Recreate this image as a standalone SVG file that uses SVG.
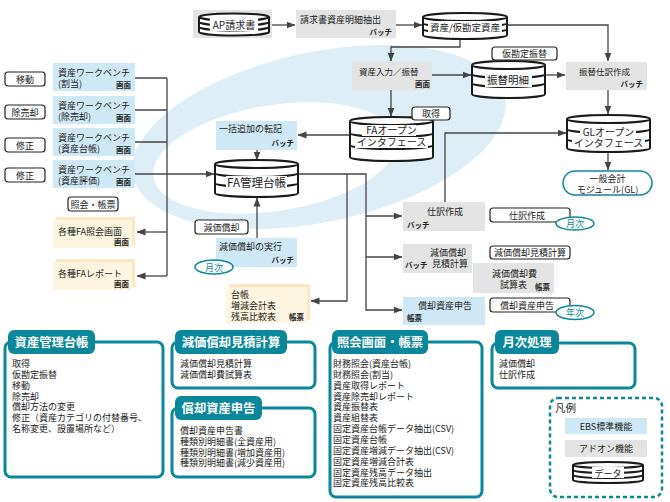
<svg xmlns="http://www.w3.org/2000/svg" width="670" height="502" viewBox="0 0 670 502">
<defs>
<marker id="ah" markerWidth="9" markerHeight="8" refX="8.5" refY="4" orient="auto" markerUnits="userSpaceOnUse"><path d="M0,0.5 L9,4 L0,7.5 z" fill="#444"/></marker>
<style>
.t{font-family:"Noto Sans CJK JP","Noto Sans",sans-serif;fill:#222}
.eb{fill:#cfe8f5}
.ad{fill:#e3e3e3}
.rb{fill:#fbe8c2}
.rf{fill:#fdf5df}
.lbl{fill:#fff;stroke:#222;stroke-width:1.2}
.cyl{fill:#fff;stroke:#1a1a1a;stroke-width:2}
.cs{fill:none;stroke:#1a1a1a;stroke-width:2}
.con{fill:none;stroke:#444;stroke-width:1.3}
.tl{fill:#fff;stroke:#0b879b;stroke-width:1.5}
.tt{font-family:"Noto Sans CJK JP","Noto Sans",sans-serif;fill:#0b879b}
.pb{fill:#fff;stroke:#0b879b;stroke-width:3}
.tab{fill:#0b879b}
.ttl{font-family:"Noto Sans CJK JP","Noto Sans",sans-serif;fill:#fff;font-weight:bold;font-size:12.3px;text-anchor:middle}
.sm{font-size:7.5px;font-weight:bold}
.s9{font-size:9px}
</style>
</defs>
<rect width="670" height="502" fill="#fff"/>
<ellipse cx="319" cy="137" rx="190" ry="85" transform="rotate(-12 319 137)" fill="#ddeef7"/>
<ellipse cx="275" cy="158" rx="123" ry="53" transform="rotate(-9 275 158)" fill="#fff"/>

<g id="connectors" class="con">
<path d="M272,25 H295" marker-end="url(#ah)"/>
<path d="M396,25 H422" marker-end="url(#ah)"/>
<path d="M507,25 H608 V61" marker-end="url(#ah)"/>
<path d="M460,40 V47 H391 V61" marker-end="url(#ah)"/>
<path d="M432,75 H471" marker-end="url(#ah)"/>
<path d="M545,75 H565" marker-end="url(#ah)"/>
<path d="M391,90 V116" marker-end="url(#ah)"/>
<path d="M608,90 V114" marker-end="url(#ah)"/>
<path d="M608,153 V170" marker-end="url(#ah)"/>
<path d="M350,135 H298" marker-end="url(#ah)"/>
<path d="M257,150 V160" marker-end="url(#ah)"/>
<path d="M257,238 V198" marker-end="url(#ah)"/>
<path d="M135,78 H167 M135,110 H167 M135,142 H167 M167,78 V276"/>
<path d="M135,174 H214" marker-end="url(#ah)"/>
<path d="M167,232 H137" marker-end="url(#ah)"/>
<path d="M167,276 H137" marker-end="url(#ah)"/>
<path d="M298,174 H366 V310 H402" marker-end="url(#ah)"/>
<path d="M366,216 H402" marker-end="url(#ah)"/>
<path d="M366,257 H402" marker-end="url(#ah)"/>
<path d="M347,174 V301 H311" marker-end="url(#ah)"/>
<path d="M445,202 V133 H566" marker-end="url(#ah)"/>
</g>

<g id="ap">
<rect class="ad" x="193" y="10" width="79" height="28"/>
<path class="cyl" d="M199,17 A35,3.5 0 0 1 269,17 V32 A35,3.5 0 0 1 199,32 Z"/>
<path class="cs" d="M199,17 A35,3.5 0 0 0 269,17 M199,22 A35,3.5 0 0 0 269,22 M199,27 A35,3.5 0 0 0 269,27"/>
<rect x="210" y="18" width="48" height="13" fill="#fff"/>
<text class="t" x="234" y="29" font-size="10" text-anchor="middle">AP請求書</text>
</g>

<g id="extract">
<rect class="ad" x="296" y="10" width="100" height="28"/>
<text class="t s9" x="300" y="23">請求書資産明細抽出</text>
<text class="t sm" x="392" y="35" text-anchor="end">バッチ</text>
</g>

<g id="asset-db">
<path class="cyl" d="M423,17 A42,4 0 0 1 507,17 V35 A42,4 0 0 1 423,35 Z"/>
<path class="cs" d="M423,17 A42,4 0 0 0 507,17 M423,23 A42,4 0 0 0 507,23 M423,29 A42,4 0 0 0 507,29"/>
<rect x="428" y="21" width="74" height="13" fill="#fff"/>
<text class="t" x="465" y="31" font-size="9.5" text-anchor="middle">資産/仮勘定資産</text>
</g>

<g id="asset-input">
<rect class="ad" x="352" y="62" width="80" height="28"/>
<text class="t" x="359" y="75" font-size="8.5">資産入力／振替</text>
<text class="t sm" x="430" y="87" text-anchor="end">画面</text>
</g>

<g id="transfer-detail">
<path class="cyl" d="M472,65 A36.5,4 0 0 1 545,65 V94 A36.5,4 0 0 1 472,94 Z"/>
<path class="cs" d="M472,65 A36.5,4 0 0 0 545,65 M472,74 A36.5,4 0 0 0 545,74 M472,83 A36.5,4 0 0 0 545,83"/>
<rect x="485" y="73" width="47" height="14" fill="#fff"/>
<text class="t" x="508" y="84" font-size="10.5" text-anchor="middle">振替明細</text>
</g>
<g id="lbl-kari">
<rect class="lbl" x="492" y="47" width="65" height="13" rx="3"/>
<text class="t s9" x="524.5" y="57" text-anchor="middle">仮勘定振替</text>
</g>

<g id="transfer-journal">
<rect class="ad" x="566" y="62" width="81" height="28"/>
<text class="t" x="579" y="74.5" font-size="8.5">振替仕訳作成</text>
<text class="t sm" x="643" y="87" text-anchor="end">バッチ</text>
</g>

<g id="fa-oif">
<path class="cyl" d="M350,121 A41.5,4 0 0 1 433,121 V157 A41.5,4 0 0 1 350,157 Z"/>
<path class="cs" d="M350,121 A41.5,4 0 0 0 433,121 M350,133 A41.5,4 0 0 0 433,133 M350,145 A41.5,4 0 0 0 433,145"/>
<rect x="362" y="125" width="54" height="11" fill="#fff"/>
<rect x="355" y="137" width="73" height="11" fill="#fff"/>
<text class="t" x="391.5" y="134" font-size="10" text-anchor="middle">FAオープン</text>
<text class="t" x="391.5" y="146" font-size="10" text-anchor="middle">インタフェース</text>
</g>
<g id="lbl-shutoku">
<rect class="lbl" x="412" y="107" width="38" height="13" rx="3"/>
<text class="t s9" x="431" y="117" text-anchor="middle">取得</text>
</g>

<g id="gl-oif">
<path class="cyl" d="M567,119 A41.5,4 0 0 1 650,119 V148 A41.5,4 0 0 1 567,148 Z"/>
<path class="cs" d="M567,119 A41.5,4 0 0 0 650,119 M567,129 A41.5,4 0 0 0 650,129 M567,139 A41.5,4 0 0 0 650,139"/>
<rect x="580" y="127" width="56" height="10" fill="#fff"/>
<rect x="572" y="138" width="73" height="10" fill="#fff"/>
<text class="t" x="608.5" y="136" font-size="10" text-anchor="middle">GLオープン</text>
<text class="t" x="608.5" y="147" font-size="10" text-anchor="middle">インタフェース</text>
</g>

<g id="gl-module">
<rect class="tl" x="563" y="171" width="89" height="24" rx="12"/>
<text class="t s9" x="607.5" y="182" text-anchor="middle">一般会計</text>
<text class="t s9" x="607.5" y="193" text-anchor="middle">モジュール(GL)</text>
</g>

<g id="mass-add">
<rect class="eb" x="216" y="121" width="81" height="29"/>
<text class="t s9" x="219" y="132">一括追加の転記</text>
<text class="t sm" x="294" y="146" text-anchor="end">バッチ</text>
</g>

<g id="fa-ledger">
<path class="cyl" d="M215,164 A41.5,4 0 0 1 298,164 V193 A41.5,4 0 0 1 215,193 Z"/>
<path class="cs" d="M215,164 A41.5,4 0 0 0 298,164 M215,173 A41.5,4 0 0 0 298,173 M215,183 A41.5,4 0 0 0 298,183"/>
<rect x="226" y="176" width="61" height="13" fill="#fff"/>
<text class="t" x="256.5" y="187" font-size="11.5" text-anchor="middle">FA管理台帳</text>
</g>

<g id="wb1">
<rect class="eb" x="53" y="63" width="82" height="28"/>
<text class="t s9" x="58" y="76">資産ワークベンチ</text>
<text class="t s9" x="58" y="87">(割当)</text>
<text class="t sm" x="131" y="88" text-anchor="end">画面</text>
</g>
<g id="wb2">
<rect class="eb" x="53" y="96" width="82" height="28"/>
<text class="t s9" x="58" y="109">資産ワークベンチ</text>
<text class="t s9" x="58" y="120">(除売却)</text>
<text class="t sm" x="131" y="121" text-anchor="end">画面</text>
</g>
<g id="wb3">
<rect class="eb" x="53" y="128" width="82" height="28"/>
<text class="t s9" x="58" y="141">資産ワークベンチ</text>
<text class="t s9" x="58" y="152">(資産台帳)</text>
<text class="t sm" x="131" y="153" text-anchor="end">画面</text>
</g>
<g id="wb4">
<rect class="eb" x="53" y="160" width="82" height="28"/>
<text class="t s9" x="58" y="173">資産ワークベンチ</text>
<text class="t s9" x="58" y="184">(資産評価)</text>
<text class="t sm" x="131" y="185" text-anchor="end">画面</text>
</g>

<g id="lbl-ido"><rect class="lbl" x="5" y="72" width="40" height="14" rx="3"/><text class="t s9" x="25" y="82.5" text-anchor="middle">移動</text></g>
<g id="lbl-jobai"><rect class="lbl" x="5" y="105" width="40" height="14" rx="3"/><text class="t s9" x="25" y="115.5" text-anchor="middle">除売却</text></g>
<g id="lbl-shusei1"><rect class="lbl" x="5" y="138" width="40" height="14" rx="3"/><text class="t s9" x="25" y="148.5" text-anchor="middle">修正</text></g>
<g id="lbl-shusei2"><rect class="lbl" x="5" y="168" width="40" height="14" rx="3"/><text class="t s9" x="25" y="178.5" text-anchor="middle">修正</text></g>
<g id="lbl-shokai"><rect class="lbl" x="68" y="197" width="50" height="14" rx="3"/><text class="t s9" x="93" y="207.5" text-anchor="middle">照会・帳票</text></g>

<g id="fa-inquiry">
<rect class="rb" x="56" y="217" width="79" height="28"/>
<rect class="rf" x="53" y="220" width="79" height="28"/>
<text class="t s9" x="58" y="235">各種FA照会画面</text>
<text class="t sm" x="129" y="245" text-anchor="end">画面</text>
</g>
<g id="fa-report">
<rect class="rb" x="56" y="259" width="79" height="28"/>
<rect class="rf" x="53" y="262" width="79" height="28"/>
<text class="t s9" x="58" y="277">各種FAレポート</text>
<text class="t sm" x="129" y="287" text-anchor="end">画面</text>
</g>

<g id="lbl-genka">
<rect class="lbl" x="195" y="220" width="53" height="14" rx="3"/>
<text class="t s9" x="221.5" y="230.5" text-anchor="middle">減価償却</text>
</g>
<g id="depr-run">
<rect class="eb" x="216" y="238" width="81" height="29"/>
<text class="t s9" x="219" y="250">減価償却の実行</text>
<text class="t sm" x="294" y="263" text-anchor="end">バッチ</text>
</g>
<g id="tag-monthly1">
<ellipse class="tl" cx="214" cy="267" rx="19" ry="7"/>
<text class="tt s9" x="214" y="270.5" text-anchor="middle">月次</text>
</g>

<g id="ledger-reports">
<rect class="rb" x="229" y="284" width="81" height="36"/>
<rect class="rf" x="226" y="287" width="81" height="36"/>
<text class="t s9" x="231" y="298">台帳</text>
<text class="t s9" x="231" y="309">増減会計表</text>
<text class="t s9" x="231" y="320">残高比較表</text>
<text class="t sm" x="304" y="320" text-anchor="end">帳票</text>
</g>

<g id="journal">
<rect class="ad" x="403" y="202" width="82" height="29"/>
<text class="t s9" x="445" y="215" text-anchor="middle">仕訳作成</text>
<text class="t sm" x="407" y="228">バッチ</text>
</g>
<g id="lbl-journal">
<rect class="lbl" x="490" y="208" width="80" height="14" rx="3"/>
<text class="t s9" x="527" y="218.5" text-anchor="middle">仕訳作成</text>
</g>
<g id="tag-monthly2">
<ellipse class="tl" cx="575" cy="223.5" rx="19" ry="6.5"/>
<text class="tt s9" x="575" y="227" text-anchor="middle">月次</text>
</g>

<g id="depr-est">
<rect class="ad" x="403" y="244" width="69" height="29"/>
<text class="t s9" x="430" y="256">減価償却</text>
<text class="t s9" x="432" y="267">見積計算</text>
<text class="t sm" x="405" y="268">バッチ</text>
</g>
<g id="lbl-depr-est">
<rect class="lbl" x="490" y="246" width="80" height="13" rx="3"/>
<text class="t s9" x="530" y="256" text-anchor="middle">減価償却見積計算</text>
</g>
<g id="depr-trial">
<rect class="ad" x="473" y="263" width="81" height="30"/>
<text class="t s9" x="492" y="277">減価償却費</text>
<text class="t s9" x="500" y="288">試算表</text>
<text class="t sm" x="550" y="290" text-anchor="end">帳票</text>
</g>

<g id="tax-report">
<rect class="eb" x="403" y="297" width="82" height="28"/>
<text class="t s9" x="445" y="309" text-anchor="middle">償却資産申告</text>
<text class="t sm" x="407" y="321">帳票</text>
</g>
<g id="lbl-tax">
<rect class="lbl" x="490" y="298" width="80" height="14" rx="3"/>
<text class="t s9" x="527" y="308.5" text-anchor="middle">償却資産申告</text>
</g>
<g id="tag-yearly">
<ellipse class="tl" cx="575" cy="312.5" rx="19" ry="7"/>
<text class="tt s9" x="575" y="316" text-anchor="middle">年次</text>
</g>

<g id="panel-ledger">
<rect class="pb" x="5" y="342" width="158" height="135" rx="6"/>
<rect class="tab" x="8" y="330" width="87" height="24" rx="6"/>
<text class="ttl" x="51.5" y="347">資産管理台帳</text>
<g class="t" font-size="9">
<text x="12" y="367">取得</text>
<text x="12" y="378">仮勘定振替</text>
<text x="12" y="388.8">移動</text>
<text x="12" y="399.6">除売却</text>
<text x="12" y="410.4">償却方法の変更</text>
<text x="12" y="421.2">修正（資産カテゴリの付替番号、</text>
<text x="12" y="432">名称変更、設置場所など）</text>
</g>
</g>

<g id="panel-depr">
<rect class="pb" x="172" y="342" width="143" height="46" rx="6"/>
<rect class="tab" x="175" y="330" width="112" height="24" rx="6"/>
<text class="ttl" x="231" y="347">減価償却見積計算</text>
<g class="t" font-size="9">
<text x="180" y="367">減価償却見積計算</text>
<text x="180" y="378">減価償却費試算表</text>
</g>
</g>

<g id="panel-tax">
<rect class="pb" x="172" y="408" width="143" height="69" rx="6"/>
<rect class="tab" x="175" y="396" width="87" height="24" rx="6"/>
<text class="ttl" x="218.5" y="413">償却資産申告</text>
<g class="t" font-size="9">
<text x="180" y="433.5">償却資産申告書</text>
<text x="180" y="444.5">種類別明細書(全資産用)</text>
<text x="180" y="455.5">種類別明細書(増加資産用)</text>
<text x="180" y="466">種類別明細書(減少資産用)</text>
</g>
</g>

<g id="panel-inquiry">
<rect class="pb" x="330" y="342" width="152" height="155" rx="6"/>
<rect class="tab" x="332" y="330" width="96" height="24" rx="6"/>
<text class="ttl" x="380" y="347">照会画面・帳票</text>
<g class="t" font-size="9">
<text x="333" y="367">財務照会(資産台帳)</text>
<text x="333" y="377.9">財務照会(割当)</text>
<text x="333" y="388.7">資産取得レポート</text>
<text x="333" y="399.6">資産除売却レポート</text>
<text x="333" y="410.4">資産振替表</text>
<text x="333" y="421.3">資産組替表</text>
<text x="333" y="432.1">固定資産台帳データ抽出(CSV)</text>
<text x="333" y="443">固定資産台帳</text>
<text x="333" y="453.8">固定資産増減データ抽出(CSV)</text>
<text x="333" y="464.7">固定資産増減合計表</text>
<text x="333" y="475.5">固定資産残高データ抽出</text>
<text x="333" y="486.4">固定資産残高比較表</text>
</g>
</g>

<g id="panel-monthly">
<rect class="pb" x="492" y="343" width="143" height="45" rx="6"/>
<rect class="tab" x="495" y="330" width="64" height="24" rx="6"/>
<text class="ttl" x="527" y="347">月次処理</text>
<g class="t" font-size="9">
<text x="499" y="367">減価償却</text>
<text x="499" y="378">仕訳作成</text>
</g>
</g>

<g id="legend">
<rect x="550" y="398" width="112" height="99" rx="8" fill="none" stroke="#0b879b" stroke-width="2.5" stroke-dasharray="4 3"/>
<text class="t" x="555" y="412" font-size="10.5">凡例</text>
<rect class="eb" x="565" y="418" width="82" height="16"/>
<text class="t s9" x="606" y="429.5" text-anchor="middle">EBS標準機能</text>
<rect class="ad" x="565" y="440" width="82" height="17"/>
<text class="t s9" x="606" y="452" text-anchor="middle">アドオン機能</text>
<path class="cyl" d="M573,465 A35,3 0 0 1 643,465 V480 A35,3 0 0 1 573,480 Z"/>
<path class="cs" d="M573,465 A35,3 0 0 0 643,465 M573,470 A35,3 0 0 0 643,470 M573,475 A35,3 0 0 0 643,475"/>
<rect x="592" y="467" width="32" height="11" fill="#fff"/>
<text class="t s9" x="608" y="477" text-anchor="middle">データ</text>
</g>
</svg>
